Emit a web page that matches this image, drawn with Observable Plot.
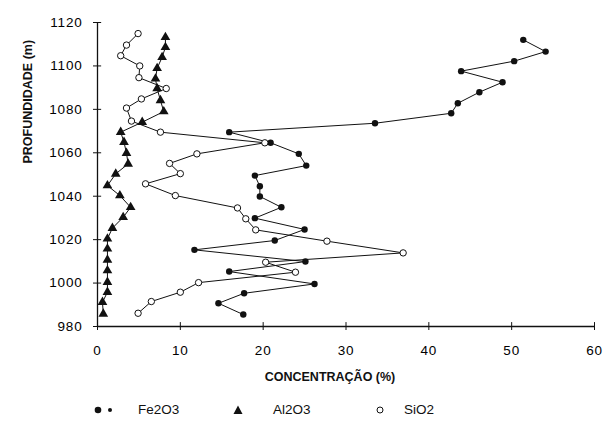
<!DOCTYPE html>
<html><head><meta charset="utf-8">
<script src="https://cdn.jsdelivr.net/npm/d3@7"></script>
<script src="https://cdn.jsdelivr.net/npm/@observablehq/plot@0.6"></script>
<style>
body{margin:0;background:#fff;font-family:"Liberation Sans",Arial,sans-serif;}
#legend{position:relative;height:30px;width:606px;font-size:13.5px;color:#111;}
#legend .item{position:absolute;top:7px;display:flex;align-items:center;}
#legend svg{display:block;}
#chart g[aria-label="x-axis tick label"] text, #chart g[aria-label="y-axis tick label"] text{letter-spacing:0.8px;}
</style></head><body>
<div id="chart"></div>
<div id="legend"></div>
<script>
const fe2o3Depth = [1112.0,1106.6,1102.2,1097.6,1092.5,1087.9,1082.8,1078.2,1073.6,1069.5,1064.6,1059.5,1054.1,1049.5,1044.6,1039.9,1034.9,1029.9,1024.7,1019.6,1015.3,1009.9,1005.3,999.6,995.3,990.7,985.5];
const fe2o3 = [51.4,54.1,50.3,43.9,48.9,46.1,43.5,42.7,33.5,15.9,20.9,24.3,25.2,19.0,19.6,19.6,22.2,19.0,25.0,21.4,11.7,25.1,15.9,26.2,17.7,14.6,17.6];

const al2o3Depth = [1113.2,1108.6,1104.0,1098.9,1094.1,1089.6,1084.1,1079.0,1074.1,1069.5,1064.9,1059.8,1054.9,1050.3,1044.9,1040.3,1034.9,1030.3,1025.3,1020.4,1015.8,1010.7,1005.8,1000.4,995.8,991.2,985.8];
const al2o3 = [8.2,8.2,7.8,7.2,7.0,7.2,7.6,8.0,5.4,2.8,3.2,3.5,3.7,2.2,1.2,2.7,4.0,3.1,1.8,1.2,1.2,1.2,1.2,1.2,1.2,0.6,0.7];

const sio2Depth = [1114.9,1109.6,1104.7,1100.0,1094.6,1089.6,1084.8,1080.6,1074.6,1069.5,1064.6,1059.5,1055.1,1050.4,1045.7,1040.3,1034.6,1029.6,1024.5,1019.3,1013.9,1009.6,1005.0,1000.2,995.8,991.5,986.1];
const sio2 = [4.9,3.5,2.8,5.1,5.0,8.3,5.3,3.5,4.1,7.6,20.2,12.0,8.7,10.0,5.8,9.4,16.9,17.9,19.1,27.7,36.9,20.3,23.9,12.2,10.0,6.5,4.9];

const xTicks = [0,10,20,30,40,50,60];
const yTicks = [980,1000,1020,1040,1060,1080,1100,1120];
const xLabel = "CONCENTRAÇÃO (%)";
const yLabel = "PROFUNDIDADE (m)";
const seriesNames = ["Fe2O3","Al2O3","SiO2"];

const fe = fe2o3.map((v,i)=>({x:v,y:fe2o3Depth[i]}));
const al = al2o3.map((v,i)=>({x:v,y:al2o3Depth[i]}));
const si = sio2.map((v,i)=>({x:v,y:sio2Depth[i]}));

const chart = Plot.plot({
  width: 606,
  height: 395,
  marginTop: 22,
  marginBottom: 69,
  marginLeft: 97,
  marginRight: 12,
  style: {fontFamily: '"Liberation Sans", Arial, sans-serif', background: "#fff", color: "#000"},
  x: {domain: [0,60]},
  y: {domain: [980,1120]},
  marks: [
    Plot.axisX({ticks: xTicks, tickFormat: d3.format("d"), tickSize: 4, tickPadding: 15, label: null, fontSize: 13.5, stroke: "#111"}),
    Plot.axisY({ticks: yTicks, tickFormat: d3.format("d"), tickSize: 4, tickPadding: 11, label: null, fontSize: 13.5, stroke: "#111"}),
    Plot.ruleX([0], {stroke: "#111", strokeWidth: 1.3}),
    Plot.ruleY([980], {stroke: "#111", strokeWidth: 1.3}),
    Plot.ruleY(yTicks, {y: d=>d, x1: 0, x2: 0.5, stroke: "#111"}),
    Plot.ruleX(xTicks, {x: d=>d, y1: 980, y2: 981.8, stroke: "#111"}),
    Plot.text([xLabel], {frameAnchor: "bottom", dy: 50, dx: -16, lineAnchor: "middle", fontWeight: "bold", fontSize: 12.5, fill: "#111"}),
    Plot.text([yLabel], {frameAnchor: "left", rotate: -90, dx: -70, dy: -11, lineAnchor: "middle", fontWeight: "bold", fontSize: 12.5, fill: "#111"}),
    Plot.line(fe, {x: "x", y: "y", stroke: "#111", strokeWidth: 1}),
    Plot.line(al, {x: "x", y: "y", stroke: "#111", strokeWidth: 1}),
    Plot.line(si, {x: "x", y: "y", stroke: "#111", strokeWidth: 1}),
    Plot.dot(fe, {x: "x", y: "y", r: 3.2, fill: "#111", symbol: "circle"}),
    Plot.dot(al, {x: "x", y: "y", r: 3.6, fill: "#111", symbol: "triangle"}),
    Plot.dot(si, {x: "x", y: "y", r: 3.2, fill: "#fff", stroke: "#111", strokeWidth: 1, symbol: "circle"})
  ]
});
document.getElementById("chart").appendChild(chart);

const legend = document.getElementById("legend");
const sym = [
  '<svg width="26" height="12"><circle cx="5" cy="6" r="3.3" fill="#111"/><circle cx="17" cy="6" r="2" fill="#111"/></svg>',
  '<svg width="12" height="12"><path d="M6,1.5L10.5,10H1.5Z" fill="#111"/></svg>',
  '<svg width="12" height="12"><circle cx="6" cy="6" r="3" fill="#fff" stroke="#111"/></svg>'
];
const symLeft = [93, 232, 374];
const textLeft = [138, 273, 404];
seriesNames.forEach((name,i)=>{
  const s = document.createElement("div");
  s.className = "item"; s.style.left = symLeft[i] + "px"; s.style.top = "9px";
  s.innerHTML = sym[i];
  legend.appendChild(s);
  const t = document.createElement("div");
  t.className = "item"; t.style.left = textLeft[i] + "px";
  t.textContent = name;
  legend.appendChild(t);
});
</script>
</body></html>
